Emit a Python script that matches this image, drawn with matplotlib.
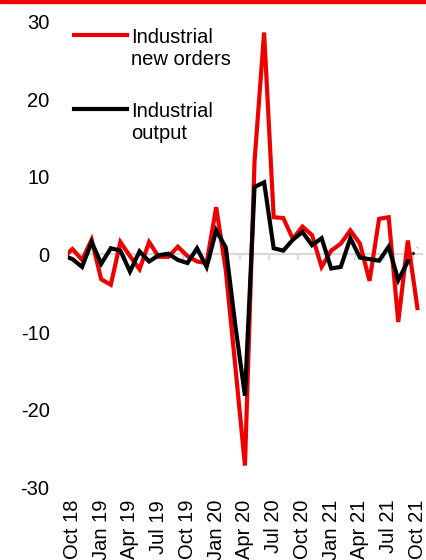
import numpy as np
import pandas as pd
import matplotlib
matplotlib.use("Agg")
import matplotlib.pyplot as plt
from matplotlib.patches import Rectangle

plt.rcParams['font.family'] = ['Liberation Sans', 'DejaVu Sans']
plt.rcParams['axes.unicode_minus'] = False

# monthly % changes, Sep 2018 .. Oct 2021
months = pd.date_range('2018-09-01', '2021-10-01', freq='MS')
new_orders = [-0.4, 0.7, -0.7, 1.9, -3.2, -3.9, 1.6, -0.2, -1.9, 1.6, -0.3, -0.3,
              1.0, -0.2, -0.9, -1.1, 6.1, -2.0, -14.5, -27.2, 12.0, 28.6, 4.8, 4.7,
              2.0, 3.6, 2.5, -1.6, 0.5, 1.4, 3.1, 1.4, -3.4, 4.6, 4.8, -8.7, 1.8, -6.9]
output = [-0.1, -0.6, -1.6, 1.6, -1.2, 0.8, 0.5, -2.2, 0.4, -0.9, -0.1, 0.1,
          -0.7, -1.1, 0.8, -1.6, 3.1, 0.9, -9.2, -18.2, 8.7, 9.3, 0.8, 0.5,
          1.9, 2.9, 1.2, 2.1, -1.8, -1.6, 2.1, -0.4, -0.6, -0.8, 1.0, -3.3, -0.9, 0.9]
tick_labels = ['Oct 18', 'Jan 19', 'Apr 19', 'Jul 19', 'Oct 19', 'Jan 20', 'Apr 20',
               'Jul 20', 'Oct 20', 'Jan 21', 'Apr 21', 'Jul 21', 'Oct 21']
y_ticks = [30, 20, 10, 0, -10, -20, -30]

RED = '#ee0000'
GREY = '#d9d9d9'

# position 0 = Oct 18, the Sep 18 point sits just left of the plot area
x = np.arange(len(months)) - 1

fig = plt.figure(figsize=(4.27, 5.6), dpi=100)
ax = fig.add_axes([0.1585, 0.1298, 0.8303, 0.8315])

ax.plot(x, new_orders, color=RED, lw=3, solid_joinstyle='miter', zorder=3)
ax.plot(x[:-1], output[:-1], color='black', lw=3, solid_joinstyle='miter', zorder=4)
ax.plot(x[-2:], output[-2:], color='black', lw=2, ls=(0, (1, 2)), zorder=4)

ax.set_xlim(-0.5, 36.5)
ax.set_ylim(-30, 30)
for s in ax.spines.values():
    s.set_visible(False)

ax.set_yticks(y_ticks)
ax.set_yticklabels([str(v) for v in y_ticks])
ax.tick_params(axis='y', length=0, pad=13, labelsize=14.5)

label_pos = [months.get_loc(pd.to_datetime(t, format='%b %y')) - 1 for t in tick_labels]
ax.set_xticks(label_pos)
ax.set_xticklabels(tick_labels, rotation=90)
ax.tick_params(axis='x', length=0, pad=9, labelsize=14.5)

# zero line with quarter boundary ticks hanging below it
zero = ax.secondary_xaxis(0.5)
for s in zero.spines.values():
    s.set_color(GREY)
    s.set_linewidth(1.6)
zero.set_xticks(np.arange(-0.5, 37, 3))
zero.tick_params(axis='x', which='both', direction='in', length=4, width=1.6,
                 color=GREY, labeltop=False, labelbottom=False)
zero.set_zorder(1)

# legend
ax.plot([0.018, 0.166], [0.971, 0.971], color=RED, lw=3, transform=ax.transAxes)
ax.text(0.179, 0.986, 'Industrial\nnew orders', transform=ax.transAxes,
        fontsize=14.5, va='top', ha='left', linespacing=1.2)
ax.plot([0.018, 0.166], [0.812, 0.812], color='black', lw=3, transform=ax.transAxes)
ax.text(0.179, 0.827, 'Industrial\noutput', transform=ax.transAxes,
        fontsize=14.5, va='top', ha='left', linespacing=1.2)

fig.patches.append(Rectangle((0, 0.995), 1, 0.005, transform=fig.transFigure,
                             color=RED, zorder=10))

fig.savefig('out.png', dpi=100)
